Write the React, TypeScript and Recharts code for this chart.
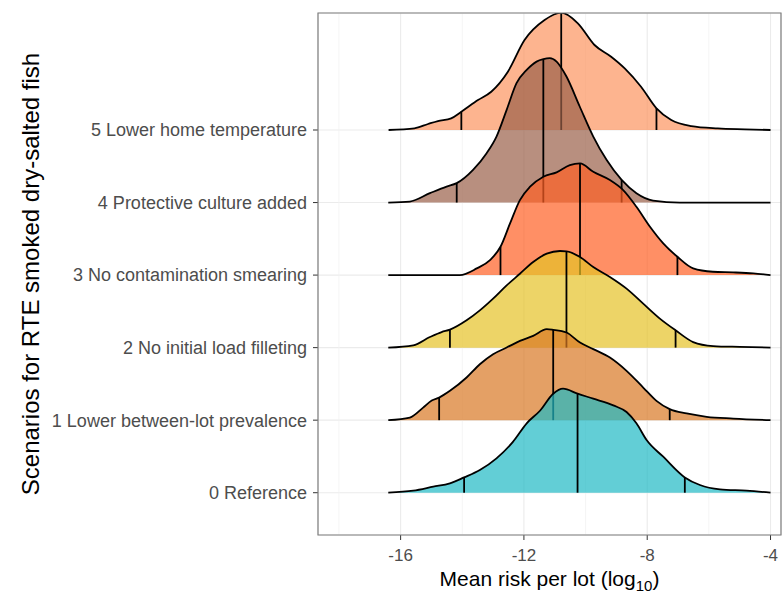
import React from 'react'
import { ComposedChart, Area, Line, XAxis, YAxis, CartesianGrid, ReferenceLine, ReferenceArea, Label } from 'recharts'

// scenario labels, bottom row first (row index = position on the y axis)
const scenarios = [
  '0 Reference',
  '1 Lower between-lot prevalence',
  '2 No initial load filleting',
  '3 No contamination smearing',
  '4 Protective culture added',
  '5 Lower home temperature',
]

const fillColors = ['#1FB9C4', '#D87724', '#E5C226', '#FF5F24', '#9A6049', '#FC945F']

// density ridges: [log10 mean risk, scaled density]
const density0: [number, number][] = [
  [-16.4, 0], [-15.59, 0.028], [-14.94, 0.083], [-14.4, 0.129], [-13.94, 0.211], [-13.43, 0.313],
  [-12.89, 0.474], [-12.35, 0.704], [-11.91, 0.957], [-11.48, 1.13], [-11.05, 1.365], [-10.73, 1.434],
  [-10.26, 1.365], [-9.75, 1.296], [-9.1, 1.204], [-8.67, 1.112], [-8.35, 0.957], [-8.02, 0.726],
  [-7.48, 0.496], [-6.78, 0.211], [-6.29, 0.106], [-5.64, 0.046], [-4.78, 0.028], [-4.0, 0],
]
const density1: [number, number][] = [
  [-16.4, 0], [-15.7, 0.036], [-15.27, 0.173], [-14.99, 0.27], [-14.75, 0.311], [-14.4, 0.404],
  [-13.86, 0.588], [-13.43, 0.771], [-13.0, 0.909], [-12.56, 1.001], [-12.13, 1.093], [-11.7, 1.162],
  [-11.26, 1.254], [-11.05, 1.245], [-10.62, 1.208], [-10.18, 1.07], [-9.75, 0.979], [-9.21, 0.863],
  [-8.67, 0.68], [-8.13, 0.45], [-7.7, 0.266], [-7.27, 0.152], [-6.72, 0.092], [-6.07, 0.046],
  [-5.21, 0.022], [-4.0, 0],
]
const density2: [number, number][] = [
  [-16.4, 0], [-15.59, 0.032], [-15.05, 0.146], [-14.67, 0.215], [-14.4, 0.248], [-13.86, 0.376],
  [-13.43, 0.513], [-13.0, 0.675], [-12.56, 0.858], [-12.13, 1.019], [-11.7, 1.18], [-11.26, 1.296],
  [-10.83, 1.332], [-10.62, 1.328], [-10.18, 1.249], [-9.75, 1.111], [-9.21, 0.974], [-8.67, 0.813],
  [-8.13, 0.606], [-7.59, 0.4], [-7.08, 0.239], [-6.51, 0.077], [-5.86, 0.022], [-5.0, 0.01], [-4.0, 0],
]
const density3: [number, number][] = [
  [-16.4, 0], [-14.08, 0], [-13.53, 0.092], [-13.1, 0.207], [-12.76, 0.39], [-12.45, 0.712],
  [-12.13, 1.034], [-11.8, 1.218], [-11.37, 1.356], [-10.94, 1.416], [-10.51, 1.516], [-10.18, 1.539],
  [-9.75, 1.424], [-9.21, 1.31], [-8.78, 1.172], [-8.35, 0.942], [-7.91, 0.666], [-7.48, 0.437],
  [-7.02, 0.252], [-6.51, 0.092], [-5.87, 0.046], [-5.21, 0.037], [-4.56, 0.023], [-4.0, 0],
]
const density4: [number, number][] = [
  [-16.4, 0], [-15.7, 0.014], [-15.05, 0.129], [-14.51, 0.22], [-14.18, 0.268], [-13.65, 0.451],
  [-13.21, 0.681], [-12.89, 0.91], [-12.56, 1.278], [-12.24, 1.645], [-11.91, 1.828], [-11.59, 1.943],
  [-11.37, 1.977], [-11.16, 1.99], [-10.94, 1.943], [-10.62, 1.737], [-10.19, 1.324], [-9.75, 0.91],
  [-9.32, 0.589], [-8.83, 0.312], [-8.35, 0.129], [-7.81, 0.028], [-6.94, 0], [-4.0, 0],
]
const density5: [number, number][] = [
  [-16.39, 0], [-15.55, 0.023], [-15.11, 0.083], [-14.79, 0.124], [-14.36, 0.161], [-14.03, 0.252],
  [-13.49, 0.413], [-13.06, 0.528], [-12.52, 0.804], [-11.98, 1.24], [-11.33, 1.516], [-10.79, 1.617],
  [-10.25, 1.471], [-9.71, 1.172], [-9.17, 1.011], [-8.73, 0.85], [-8.2, 0.597], [-7.7, 0.299],
  [-7.22, 0.138], [-6.57, 0.055], [-5.71, 0.023], [-4.83, 0.01], [-4.0, 0],
]
const densities = [density0, density1, density2, density3, density4, density5]

// 5%, 50% and 95% quantile lines per scenario
const q05 = [-13.94, -14.75, -14.4, -12.76, -14.18, -14.03]
const q50 = [-10.26, -11.05, -10.62, -10.18, -11.37, -10.79]
const q95 = [-6.78, -7.27, -7.08, -7.02, -8.83, -7.7]

const xTicks = [-16, -12, -8, -4]
const xMinor = [-18, -14, -10, -6]
const xDomain = [-18.68, -3.66]
const yDomain = [-0.583, 6.613]

const FONT = '"Liberation Sans", Arial, sans-serif'

function heightAt(row: number, x: number): number {
  const p = densities[row].find(d => d[0] === x)
  return p ? p[1] : 0
}

function XTitle(props: any) {
  const { viewBox } = props
  return (
    <text
      x={viewBox.x + viewBox.width / 2}
      y={viewBox.y + 51}
      textAnchor="middle"
      fontSize={21}
      fontFamily={FONT}
      fill="#000"
    >
      <tspan>Mean risk per lot (log</tspan>
      <tspan dy={5} fontSize={15}>10</tspan>
      <tspan dy={-5}>)</tspan>
    </text>
  )
}

function YTitle(props: any) {
  const { viewBox } = props
  const cx = viewBox.x + 30
  const cy = viewBox.y + viewBox.height / 2
  return (
    <text
      x={cx}
      y={cy}
      transform={`rotate(-90 ${cx} ${cy})`}
      textAnchor="middle"
      dominantBaseline="central"
      fontSize={24}
      fontFamily={FONT}
      fill="#000"
    >
      Scenarios for RTE smoked dry-salted fish
    </text>
  )
}

export default function App() {
  const rowsTopFirst = [5, 4, 3, 2, 1, 0]

  return (
    <div style={{ position: 'absolute', left: 0, top: 0, width: 782, height: 597, background: '#fff' }}>
      <ComposedChart
        width={782}
        height={597}
        margin={{ top: 13, right: 1, left: 0, bottom: 0 }}
        style={{ fontFamily: FONT }}
      >
        <CartesianGrid stroke="#EBEBEB" strokeWidth={1.1} />
        {xMinor.map(v => (
          <ReferenceLine key={'m' + v} x={v} stroke="#F2F2F2" strokeWidth={0.8} zIndex={-90} />
        ))}
        <XAxis
          type="number"
          dataKey="x"
          domain={xDomain}
          allowDataOverflow
          ticks={xTicks}
          axisLine={false}
          tickSize={5}
          tickMargin={9}
          tickLine={{ stroke: '#333333' }}
          tick={{ fill: '#4D4D4D', fontSize: 17 }}
          height={62}
        >
          <Label content={XTitle} />
        </XAxis>
        <YAxis
          type="number"
          domain={yDomain}
          allowDataOverflow
          ticks={[0, 1, 2, 3, 4, 5]}
          tickFormatter={(v: number) => scenarios[v]}
          axisLine={false}
          tickSize={5}
          tickMargin={6}
          tickLine={{ stroke: '#333333' }}
          tick={{ fill: '#4D4D4D', fontSize: 18 }}
          width={318}
        >
          <Label content={YTitle} />
        </YAxis>

        {rowsTopFirst.map((i, j) => {
          const rowData = densities[i].map(([x, h]) => ({ x, y: i + h }))
          const quantiles = [q05[i], q50[i], q95[i]]
          return (
            <React.Fragment key={'row' + i}>
              <Area
                data={rowData}
                dataKey="y"
                type="monotone"
                baseValue={i}
                fill={fillColors[i]}
                fillOpacity={0.7}
                stroke="#000"
                strokeWidth={1.8}
                dot={false}
                activeDot={false}
                zIndex={100 + j * 10}
                isAnimationActive={false}
              />
              {quantiles.map((q, k) => (
                <Line
                  key={'q' + i + '-' + k}
                  data={[{ x: q, y: i }, { x: q, y: i + heightAt(i, q) }]}
                  dataKey="y"
                  type="linear"
                  stroke="#000"
                  strokeWidth={1.8}
                  dot={false}
                  activeDot={false}
                  zIndex={105 + j * 10}
                  isAnimationActive={false}
                />
              ))}
            </React.Fragment>
          )
        })}

        <ReferenceArea
          x1={xDomain[0]}
          x2={xDomain[1]}
          y1={yDomain[0]}
          y2={yDomain[1]}
          fill="none"
          stroke="#7F7F7F"
          strokeWidth={1.2}
          ifOverflow="visible"
          zIndex={500}
        />
      </ComposedChart>
    </div>
  )
}
